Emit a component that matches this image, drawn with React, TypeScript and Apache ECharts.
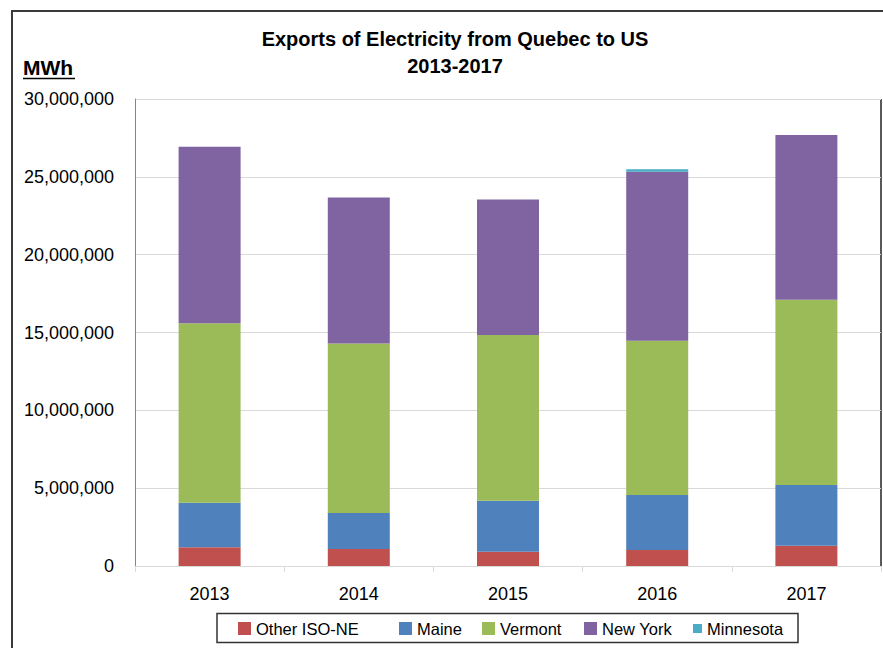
import React, { useEffect, useRef } from "react";
import * as echarts from "echarts";

const years = ["2013", "2014", "2015", "2016", "2017"];
const otherIsoNe = [1200000, 1090000, 920000, 1030000, 1300000];
const maine = [2870000, 2310000, 3270000, 3530000, 3900000];
const vermont = [11520000, 10900000, 10650000, 9910000, 11900000];
const newYork = [11340000, 9380000, 8710000, 10850000, 10580000];
const minnesota = [0, 0, 0, 160000, 0];
const yTicks = { min: 0, max: 30000000, interval: 5000000 };

const FONT = "Liberation Sans";

export default function App() {
  const ref = useRef<HTMLDivElement>(null);
  useEffect(() => {
    if (!ref.current) return;
    const chart = echarts.init(ref.current, undefined, { renderer: "svg" });
    const seriesDefs = [
      { name: "Other ISO-NE", data: otherIsoNe, color: "#C0504D" },
      { name: "Maine", data: maine, color: "#4F81BD" },
      { name: "Vermont", data: vermont, color: "#9BBB59" },
      { name: "New York", data: newYork, color: "#8064A2" },
      { name: "Minnesota", data: minnesota, color: "#4BACC6" },
    ];
    const legendPos = [
      { name: "Other ISO-NE", left: 238, size: 13 },
      { name: "Maine", left: 399, size: 13 },
      { name: "Vermont", left: 482, size: 13 },
      { name: "New York", left: 584, size: 13 },
      { name: "Minnesota", left: 693, size: 9 },
    ];
    chart.setOption({
      animation: false,
      backgroundColor: "#ffffff",
      title: {
        text: "Exports of Electricity from Quebec to US\n2013-2017",
        left: 455,
        top: 25,
        textAlign: "center",
        padding: 0,
        textStyle: {
          fontFamily: FONT,
          fontSize: 20,
          fontWeight: "bold",
          color: "#000",
          lineHeight: 27,
        },
      },
      legend: legendPos.map((l) => ({
        data: [l.name],
        left: l.left,
        top: 620,
        itemWidth: l.size,
        itemHeight: l.size,
        padding: 0,
        icon: "rect",
        selectedMode: false,
        textStyle: { fontFamily: FONT, fontSize: 16.5, lineHeight: 17, color: "#000" },
      })),
      grid: { left: 135, top: 99, width: 746, height: 467, containLabel: false },
      xAxis: {
        type: "category",
        data: years,
        axisLine: { show: true, lineStyle: { color: "#d9d9d9", width: 1 } },
        axisTick: { show: true, length: 6, lineStyle: { color: "#d9d9d9" } },
        axisLabel: { fontFamily: FONT, fontSize: 18, color: "#000", margin: 19 },
      },
      yAxis: {
        type: "value",
        min: yTicks.min,
        max: yTicks.max,
        interval: yTicks.interval,
        axisLine: { show: true, lineStyle: { color: "#868686", width: 1 } },
        axisTick: { show: false },
        splitLine: { lineStyle: { color: "#d9d9d9", width: 1 } },
        axisLabel: {
          fontFamily: FONT,
          fontSize: 18,
          color: "#000",
          margin: 21,
          formatter: (v: number) => v.toLocaleString("en-US"),
        },
      },
      series: seriesDefs.map((s) => ({
        name: s.name,
        type: "bar",
        stack: "total",
        data: s.data,
        barWidth: 62,
        itemStyle: { color: s.color },
        emphasis: { disabled: true },
      })),
      graphic: [
        {
          type: "rect",
          shape: { x: 12, y: 11, width: 920, height: 700 },
          style: { fill: "none", stroke: "#3a3a3a", lineWidth: 2 },
          silent: true,
        },
        {
          type: "line",
          shape: { x1: 135, y1: 99.5, x2: 881, y2: 99.5 },
          style: { stroke: "#000", lineWidth: 1 },
          silent: true,
        },
        {
          type: "line",
          shape: { x1: 881, y1: 99, x2: 881, y2: 567 },
          style: { stroke: "#222", lineWidth: 1.5 },
          silent: true,
        },
        {
          type: "text",
          x: 23,
          y: 67,
          style: {
            text: "MWh",
            fontFamily: FONT,
            fontSize: 21,
            fontWeight: "bold",
            fill: "#000",
            textVerticalAlign: "middle",
            verticalAlign: "middle",
          },
          silent: true,
        },
        {
          type: "line",
          shape: { x1: 23, y1: 78.5, x2: 75, y2: 78.5 },
          style: { stroke: "#000", lineWidth: 1.5 },
          silent: true,
        },
        {
          type: "rect",
          shape: { x: 217, y: 613.5, width: 581, height: 29 },
          style: { fill: "none", stroke: "#333", lineWidth: 1.5 },
          silent: true,
        },
      ],
    });
    return () => chart.dispose();
  }, []);
  return (
    <div
      ref={ref}
      style={{ position: "fixed", left: 0, top: 0, width: 883, height: 648 }}
    />
  );
}
